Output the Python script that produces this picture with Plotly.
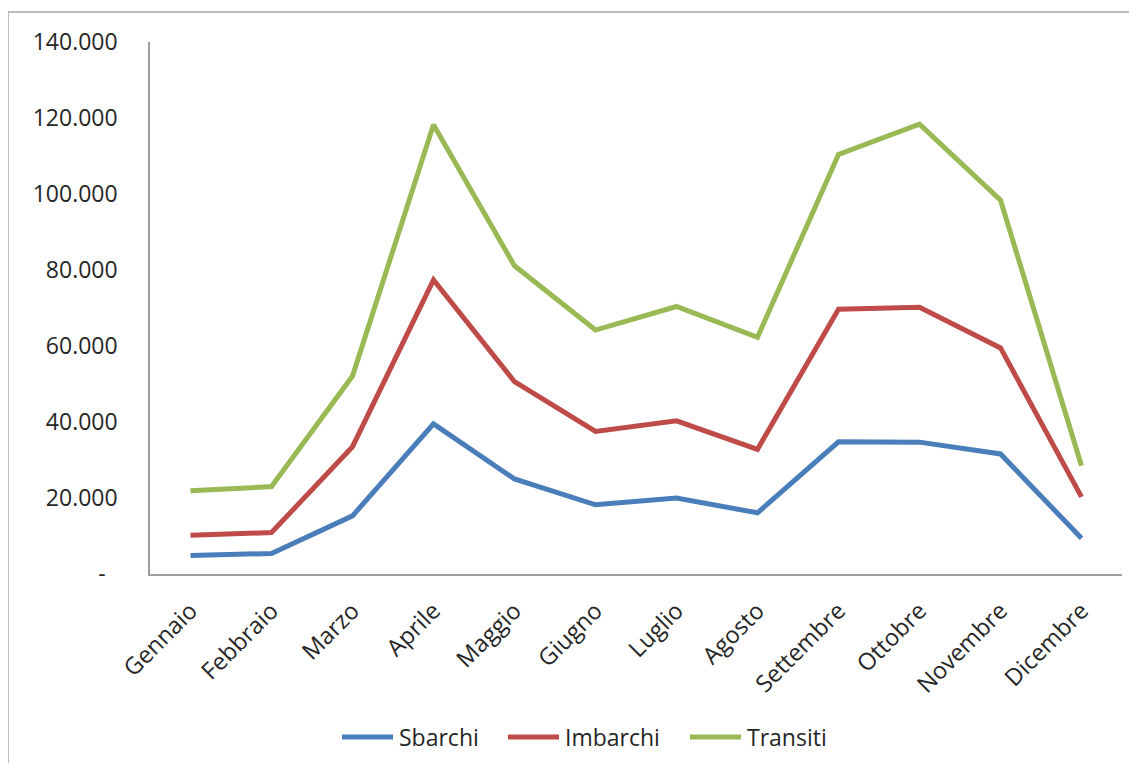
import plotly.graph_objects as go

mesi = ["Gennaio", "Febbraio", "Marzo", "Aprile", "Maggio", "Giugno",
        "Luglio", "Agosto", "Settembre", "Ottobre", "Novembre", "Dicembre"]
sbarchi = [4900, 5400, 15300, 39500, 25000, 18200, 20000, 16100, 34800, 34700, 31600, 9400]
imbarchi = [10200, 10900, 33500, 77400, 50600, 37500, 40300, 32800, 69700, 70200, 59500, 20300]
transiti = [21900, 23000, 52100, 118200, 81100, 64200, 70400, 62300, 110400, 118400, 98400, 28500]

y_ticks = [0, 20000, 40000, 60000, 80000, 100000, 120000, 140000]
y_labels = ["-\u00a0\u00a0", "20.000", "40.000", "60.000", "80.000", "100.000", "120.000", "140.000"]

serie = [("Sbarchi", sbarchi, "#4A7EBB"),
         ("Imbarchi", imbarchi, "#BE4B48"),
         ("Transiti", transiti, "#98B954")]

FONT = "Open Sans, Liberation Sans, sans-serif"
TXT = "#262626"

fig = go.Figure()
for nome, vals, col in serie:
    fig.add_trace(go.Scatter(x=mesi, y=vals, name=nome, mode="lines",
                             line=dict(color=col, width=5), showlegend=False))

OFF = 8  # page body margin
W, H = 1121, 755
# plot area in page pixels: left 150, right 1122, top 42, bottom 574
L = 150 - OFF
T = 42 - OFF
R = W - (1122 - OFF)
B = H - (574 - OFF)
pw, ph = W - L - R, H - T - B

def px_x(p):
    return (p - OFF - L) / pw

def px_y(p):
    return (574 - p) / ph

# manual legend (symbol line start in page px)
leg_x = [340, 506, 688]
leg_y = px_y(737)
shapes = [dict(type="rect", xref="paper", yref="paper",
               x0=px_x(8), x1=px_x(1200), y0=px_y(820), y1=px_y(12),
               line=dict(color="#A6A6A6", width=1.5), fillcolor="rgba(0,0,0,0)",
               layer="below")]
annotations = []
for (nome, vals, col), lx in zip(serie, leg_x):
    shapes.append(dict(type="line", xref="paper", yref="paper",
                       x0=px_x(lx + 2), x1=px_x(lx + 53), y0=leg_y, y1=leg_y,
                       line=dict(color=col, width=5)))
    annotations.append(dict(xref="paper", yref="paper", x=px_x(lx + 57), y=leg_y,
                            text=nome, showarrow=False, xanchor="left",
                            yanchor="middle",
                            font=dict(family=FONT, size=23, color=TXT)))

fig.update_layout(
    width=W, height=H,
    margin=dict(l=L, r=R, t=T, b=B),
    paper_bgcolor="white", plot_bgcolor="white",
    font=dict(family=FONT, size=23, color=TXT),
    showlegend=False,
    xaxis=dict(type="category", range=[-0.5, 11.5], showline=True,
               linecolor="#A0A0A0", linewidth=1.5, showgrid=False,
               ticks="", tickangle=-45, zeroline=False,
               ticklabelstandoff=12,
               tickfont=dict(family=FONT, size=23.5, color=TXT)),
    yaxis=dict(range=[0, 140000], tickvals=y_ticks, ticktext=y_labels,
               showline=True, linecolor="#A0A0A0", linewidth=1.5,
               showgrid=False, zeroline=False, ticks="",
               ticklabelstandoff=26,
               tickfont=dict(family=FONT, size=23, color=TXT)),
    shapes=shapes,
    annotations=annotations,
)

fig.write_html("out.html")
